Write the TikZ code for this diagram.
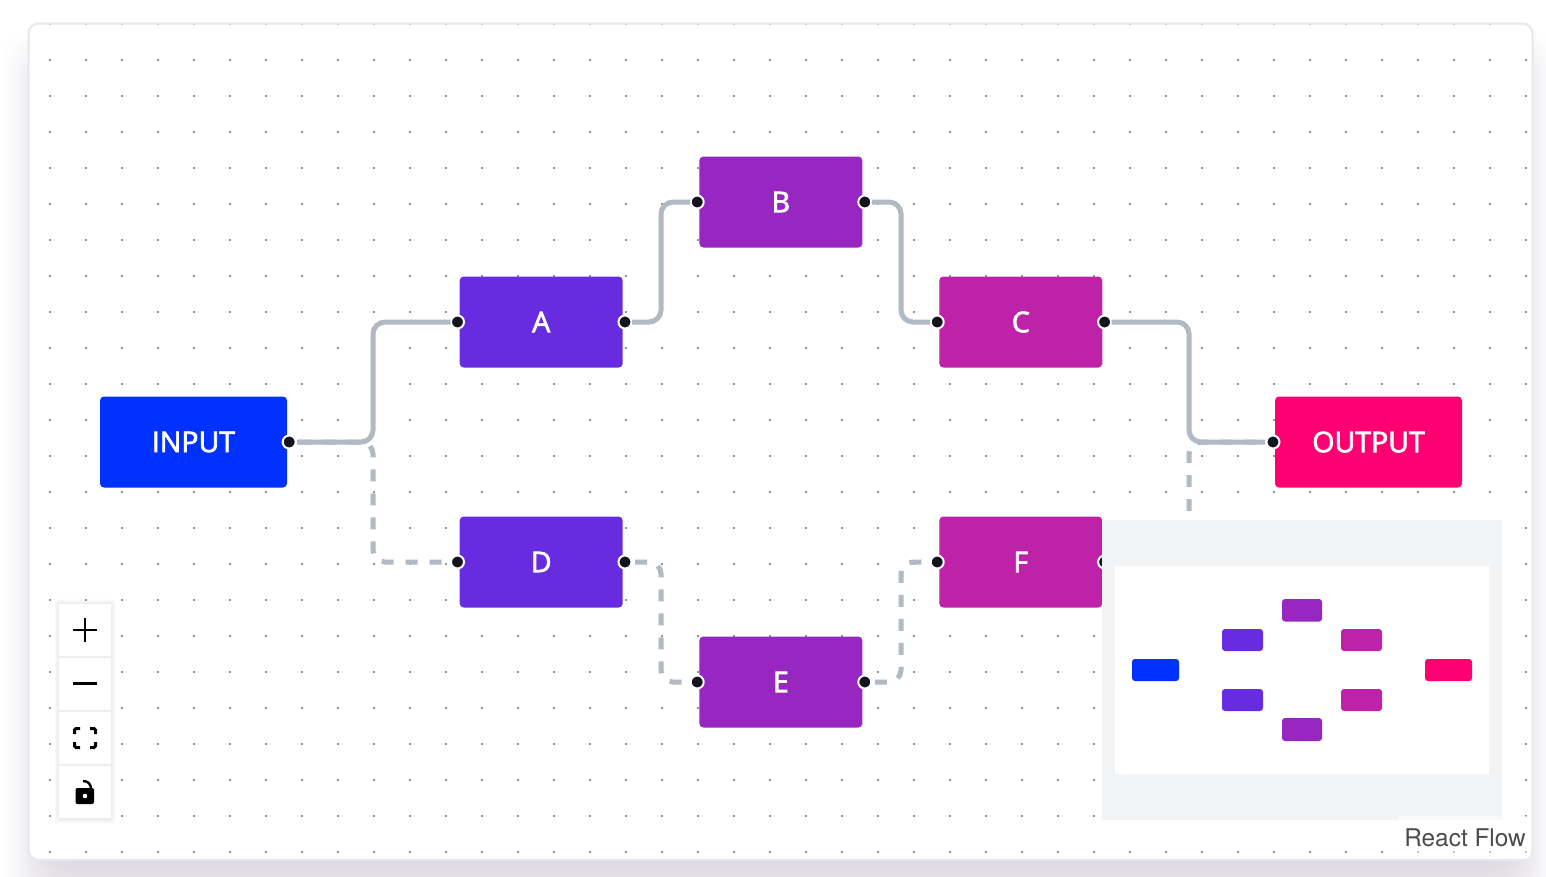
\documentclass[tikz,border=0pt]{standalone}
\usepackage{fontspec}
\setmainfont{Open Sans}
\newfontfamily\lblfont[FakeBold=2.5]{Open Sans}
\newfontfamily\attrfont{TeX Gyre Heros}
\usetikzlibrary{calc}
\definecolor{cIn}{HTML}{0031FF}
\definecolor{cA}{HTML}{682CE0}
\definecolor{cB}{HTML}{9727C0}
\definecolor{cC}{HTML}{BD22A8}
\definecolor{cOut}{HTML}{FF0072}
\definecolor{edgeC}{HTML}{B1B9C3}
\definecolor{hC}{HTML}{14141E}
\definecolor{shadowC}{HTML}{E0DAE2}
\definecolor{borderC}{HTML}{E5E8EC}
\definecolor{miniC}{HTML}{F2F3F5}
\tikzset{
 flowbox/.style={rounded corners=4pt,inner sep=0pt,outer sep=0pt,font=\lblfont\fontsize{28.5}{28.5}\selectfont,text=white,anchor=north west,minimum height=91pt},
 wide/.style={flowbox,minimum width=187pt},
 narrow/.style={flowbox,minimum width=163pt},
 handle/.style={circle,fill=hC,draw=white,line width=2pt,inner sep=0pt,minimum size=13pt},
 edgesolid/.style={draw=edgeC,line width=5pt,rounded corners=12pt},
 edgedash/.style={draw=edgeC,line width=5pt,rounded corners=12pt,dash pattern=on 12pt off 12pt},
 ctlbtn/.style={fill=white,inner sep=0pt,outer sep=0pt,minimum width=52pt,minimum height=52pt,anchor=north west},
 icon/.style={line width=2.8pt,draw=black}
}
\begin{document}
\begin{tikzpicture}[x=1pt,y=-1pt]
\useasboundingbox (0,0) rectangle (1546,876);
\fill[white] (0,0) rectangle (1546,876);
% soft shadow as opaque steps
\foreach \i in {0,...,40}{
 \pgfmathsetmacro{\tt}{\i/40}
 \pgfmathsetmacro{\pp}{100*\tt*\tt*(3-2*\tt)}
 \pgfmathsetmacro{\dd}{30-1.5*\i}
 \fill[shadowC!\pp!white,rounded corners=28pt] ({28-\dd},{56-\dd}) rectangle ({1533+\dd},{890+\dd});
}
% panel
\fill[white,rounded corners=10pt] (28,23) rectangle (1533,860.5);
% dots
\foreach \xi in {0,...,41}{\foreach \yi in {0,...,23}{
 \fill[black!42] ({50+36*\xi-1},{23.5+36*\yi-1}) rectangle ++(2,2);
}}
\draw[borderC,line width=2pt,rounded corners=10pt] (28.5,23.5) rectangle (1532.5,860);
% nodes
\node[wide,fill=cIn] (input) at (100,396.5) {INPUT};
\node[narrow,fill=cA] (a) at (459.7,276.5) {A};
\node[narrow,fill=cB] (b) at (699.4,156.5) {B};
\node[narrow,fill=cC] (c) at (939.3,276.5) {C};
\node[narrow,fill=cA] (d) at (459.7,516.5) {D};
\node[narrow,fill=cB] (e) at (699.4,636.5) {E};
\node[narrow,fill=cC] (f) at (939.3,516.5) {F};
\node[wide,fill=cOut] (output) at (1275,396.5) {OUTPUT};
% handles
\node[handle] (hi) at (289.2,442) {};
\node[handle] (hal) at (457.5,322) {};
\node[handle] (har) at (625,322) {};
\node[handle] (hbl) at (697.2,202) {};
\node[handle] (hbr) at (864.8,202) {};
\node[handle] (hcl) at (937.2,322) {};
\node[handle] (hcr) at (1104.6,322) {};
\node[handle] (hdl) at (457.5,562) {};
\node[handle] (hdr) at (625,562) {};
\node[handle] (hel) at (697.2,682) {};
\node[handle] (her) at (864.8,682) {};
\node[handle] (hfl) at (937.2,562) {};
\node[handle] (hfr) at (1104.6,562) {};
\node[handle] (ho) at (1273,442) {};
% edges
\draw[edgedash] ($(hi)+(10,0)$) -- (373,442) -- (373,562) -- ($(hdl)+(-7,0)$);
\draw[edgedash] ($(hdr)+(10,0)$) -- (661,562) -- (661,682) -- ($(hel)+(-7,0)$);
\draw[edgedash] ($(her)+(10,0)$) -- (901,682) -- (901,562) -- ($(hfl)+(-7,0)$);
\draw[edgedash] ($(hfr)+(10,0)$) -- (1189,562) -- (1189,442) -- ($(ho)+(-8,0)$);
\draw[edgesolid] ($(hi)+(8,0)$) -- (373,442) -- (373,322) -- ($(hal)+(-7,0)$);
\draw[edgesolid] ($(har)+(7,0)$) -- (661,322) -- (661,202) -- ($(hbl)+(-7,0)$);
\draw[edgesolid] ($(hbr)+(7,0)$) -- (901,202) -- (901,322) -- ($(hcl)+(-7,0)$);
\draw[edgesolid] ($(hcr)+(7,0)$) -- (1189,322) -- (1189,442) -- ($(ho)+(-8,0)$);
% minimap
\fill[miniC] (1102,520) rectangle (1502,820);
\fill[white] (1114.5,565.7) rectangle (1489.3,774);
\fill[cIn,rounded corners=3pt] (1132,659) rectangle (1179,681);
\fill[cA,rounded corners=3pt] (1222,629) rectangle (1263,651);
\fill[cA,rounded corners=3pt] (1222,689) rectangle (1263,711);
\fill[cB,rounded corners=3pt] (1282,599) rectangle (1322,621.5);
\fill[cB,rounded corners=3pt] (1282,718) rectangle (1322,741);
\fill[cC,rounded corners=3pt] (1341,629) rectangle (1382,651);
\fill[cC,rounded corners=3pt] (1341,689) rectangle (1382,711);
\fill[cOut,rounded corners=3pt] (1425,659) rectangle (1472,681);
% attribution
\fill[white,opacity=0.5] (1398,816) rectangle (1531,858.5);
\node[anchor=base east,inner sep=0pt,font=\attrfont\fontsize{24.4}{24.4}\selectfont,text=black!70] (attr) at (1526,846) {React Flow};
% controls
\foreach \i in {0,...,6}{\fill[black,opacity=0.012,rounded corners=3pt] ({59-\i*0.8},{604-\i*0.8}) rectangle ({111+\i*0.8},{819+\i*0.8});}
\fill[black!7] (59,604) rectangle (111,818);
\node[ctlbtn] (cp) at (59,604) {};
\node[ctlbtn] (cm) at (59,658) {};
\node[ctlbtn] (cf) at (59,712) {};
\node[ctlbtn] (cl) at (59,766) {};
\draw[icon] (73,630) -- (97,630) (85,618) -- (85,642);
\draw[icon,line width=3.2pt] (73,683.7) -- (97,683.7);
\draw[icon,line width=3pt,line cap=butt,rounded corners=1.5pt]
 (74.5,734) -- (74.5,728.5) -- (80,728.5)
 (90,728.5) -- (95.5,728.5) -- (95.5,734)
 (95.5,742) -- (95.5,747.5) -- (90,747.5)
 (80,747.5) -- (74.5,747.5) -- (74.5,742);
\fill[black,rounded corners=2pt] (75.5,788) rectangle (94,804);
\fill[white] (85,796) circle (2.3pt);
\draw[black,line width=2.4pt] (83,781) .. controls (88,781) and (91,784) .. (91,789);
\end{tikzpicture}
\end{document}
